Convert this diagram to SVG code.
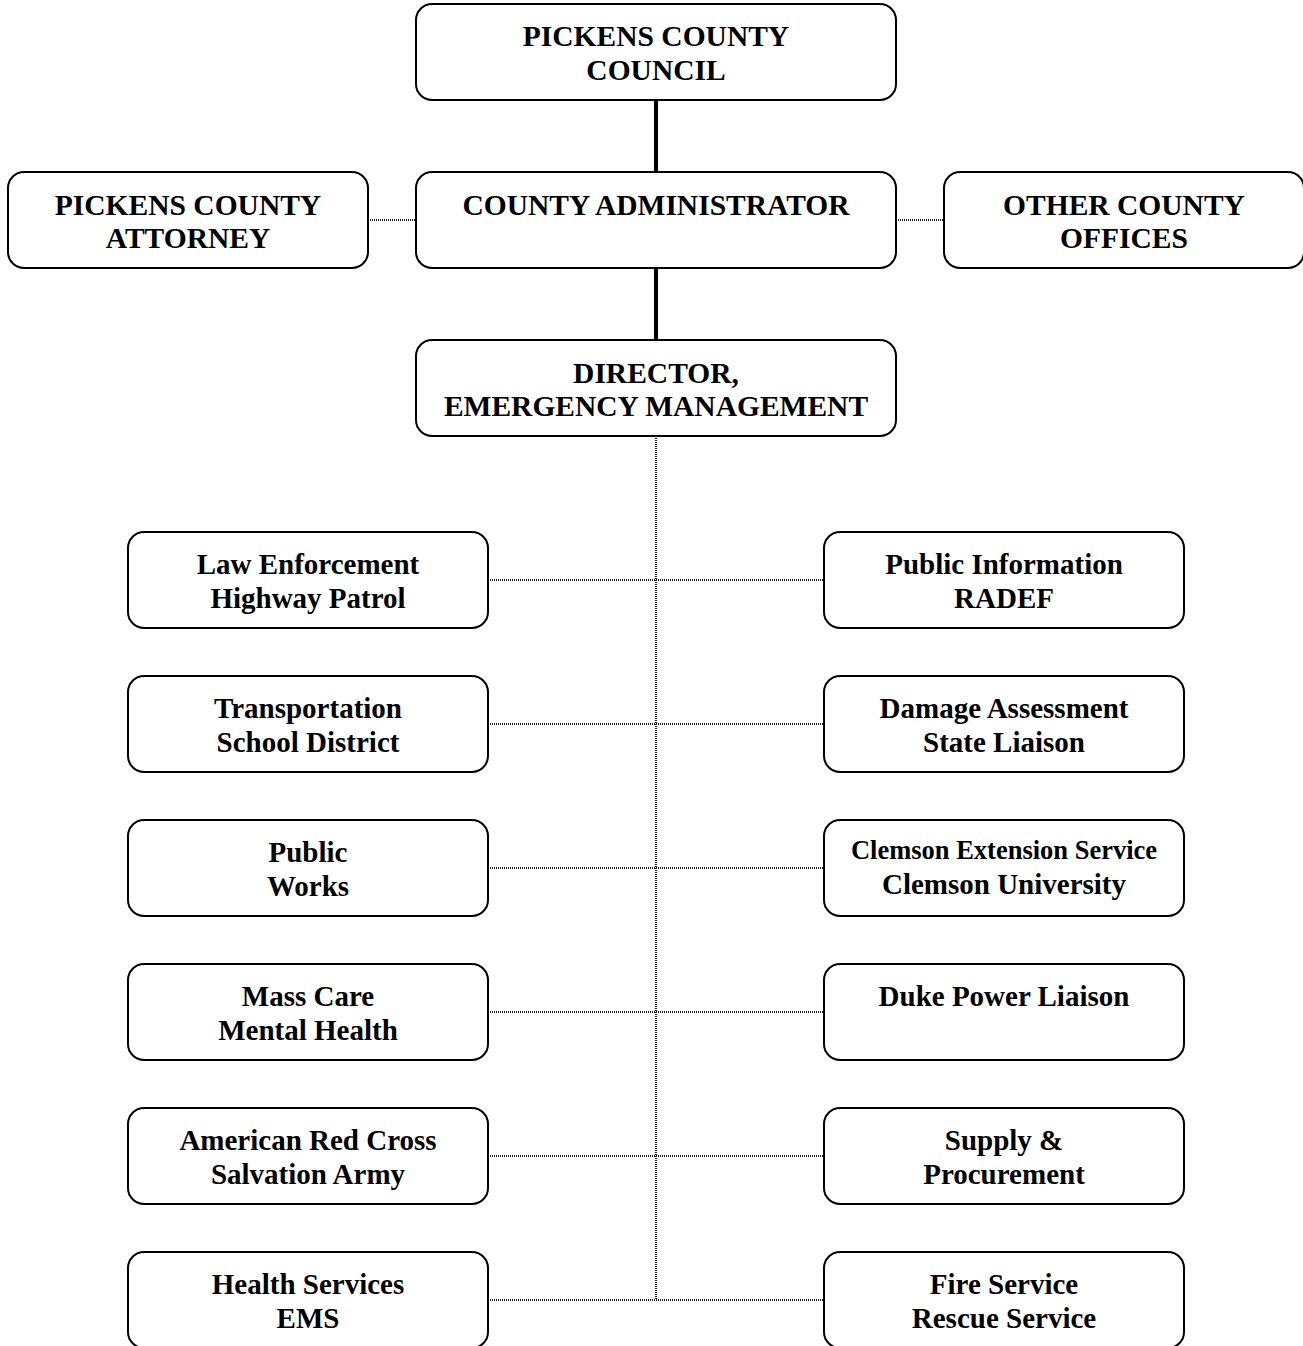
<svg xmlns="http://www.w3.org/2000/svg" width="1303" height="1346" viewBox="0 0 1303 1346">
<style>
.box{fill:#fff;stroke:#000;stroke-width:2}
.t{font-family:"Liberation Serif","Times New Roman",serif;font-weight:bold;font-size:29.5px;text-anchor:middle;fill:#000}
.s{font-size:29px}
.xs{font-size:26.5px}
.solid{stroke:#000;stroke-width:4;fill:none}
.dot{stroke:#222;stroke-width:2;stroke-dasharray:1 1;fill:none}
</style>
<rect width="1303" height="1346" fill="#fff"/>
<g id="connectors">
<line class="solid" x1="656" y1="100" x2="656" y2="172"/>
<line class="solid" x1="656" y1="268" x2="656" y2="340"/>
<line class="dot" x1="368" y1="220" x2="416" y2="220"/>
<line class="dot" x1="896" y1="220" x2="944" y2="220"/>
<line class="dot" x1="656" y1="436" x2="656" y2="1300"/>
<line class="dot" x1="488" y1="580" x2="824" y2="580"/>
<line class="dot" x1="488" y1="724" x2="824" y2="724"/>
<line class="dot" x1="488" y1="868" x2="824" y2="868"/>
<line class="dot" x1="488" y1="1012" x2="824" y2="1012"/>
<line class="dot" x1="488" y1="1156" x2="824" y2="1156"/>
<line class="dot" x1="488" y1="1300" x2="824" y2="1300"/>
</g>
<g id="council"><rect class="box" x="416" y="4" width="480" height="96" rx="16"/><text class="t" x="656" y="46">PICKENS COUNTY</text><text class="t" x="656" y="80">COUNCIL</text></g>
<g id="administrator"><rect class="box" x="416" y="172" width="480" height="96" rx="16"/><text class="t" x="656" y="215">COUNTY ADMINISTRATOR</text></g>
<g id="attorney"><rect class="box" x="8" y="172" width="360" height="96" rx="16"/><text class="t" x="188" y="215">PICKENS COUNTY</text><text class="t" x="188" y="248">ATTORNEY</text></g>
<g id="other"><rect class="box" x="944" y="172" width="360" height="96" rx="16"/><text class="t" x="1124" y="215">OTHER COUNTY</text><text class="t" x="1124" y="248">OFFICES</text></g>
<g id="director"><rect class="box" x="416" y="340" width="480" height="96" rx="16"/><text class="t" x="656" y="383">DIRECTOR,</text><text class="t" x="656" y="416">EMERGENCY MANAGEMENT</text></g>
<g id="law"><rect class="box" x="128" y="532" width="360" height="96" rx="16"/><text class="t s" x="308" y="574">Law Enforcement</text><text class="t s" x="308" y="608">Highway Patrol</text></g>
<g id="pubinfo"><rect class="box" x="824" y="532" width="360" height="96" rx="16"/><text class="t s" x="1004" y="574">Public Information</text><text class="t s" x="1004" y="608">RADEF</text></g>
<g id="transport"><rect class="box" x="128" y="676" width="360" height="96" rx="16"/><text class="t s" x="308" y="718">Transportation</text><text class="t s" x="308" y="752">School District</text></g>
<g id="damage"><rect class="box" x="824" y="676" width="360" height="96" rx="16"/><text class="t s" x="1004" y="718">Damage Assessment</text><text class="t s" x="1004" y="752">State Liaison</text></g>
<g id="works"><rect class="box" x="128" y="820" width="360" height="96" rx="16"/><text class="t s" x="308" y="862">Public</text><text class="t s" x="308" y="896">Works</text></g>
<g id="clemson"><rect class="box" x="824" y="820" width="360" height="96" rx="16"/><text class="t xs" x="1004" y="859">Clemson Extension Service</text><text class="t s" x="1004" y="894">Clemson University</text></g>
<g id="masscare"><rect class="box" x="128" y="964" width="360" height="96" rx="16"/><text class="t s" x="308" y="1006">Mass Care</text><text class="t s" x="308" y="1040">Mental Health</text></g>
<g id="duke"><rect class="box" x="824" y="964" width="360" height="96" rx="16"/><text class="t s" x="1004" y="1006">Duke Power Liaison</text></g>
<g id="redcross"><rect class="box" x="128" y="1108" width="360" height="96" rx="16"/><text class="t s" x="308" y="1150">American Red Cross</text><text class="t s" x="308" y="1184">Salvation Army</text></g>
<g id="supply"><rect class="box" x="824" y="1108" width="360" height="96" rx="16"/><text class="t s" x="1004" y="1150">Supply &amp;</text><text class="t s" x="1004" y="1184">Procurement</text></g>
<g id="health"><rect class="box" x="128" y="1252" width="360" height="96" rx="16"/><text class="t s" x="308" y="1294">Health Services</text><text class="t s" x="308" y="1328">EMS</text></g>
<g id="fire"><rect class="box" x="824" y="1252" width="360" height="96" rx="16"/><text class="t s" x="1004" y="1294">Fire Service</text><text class="t s" x="1004" y="1328">Rescue Service</text></g>
</svg>
